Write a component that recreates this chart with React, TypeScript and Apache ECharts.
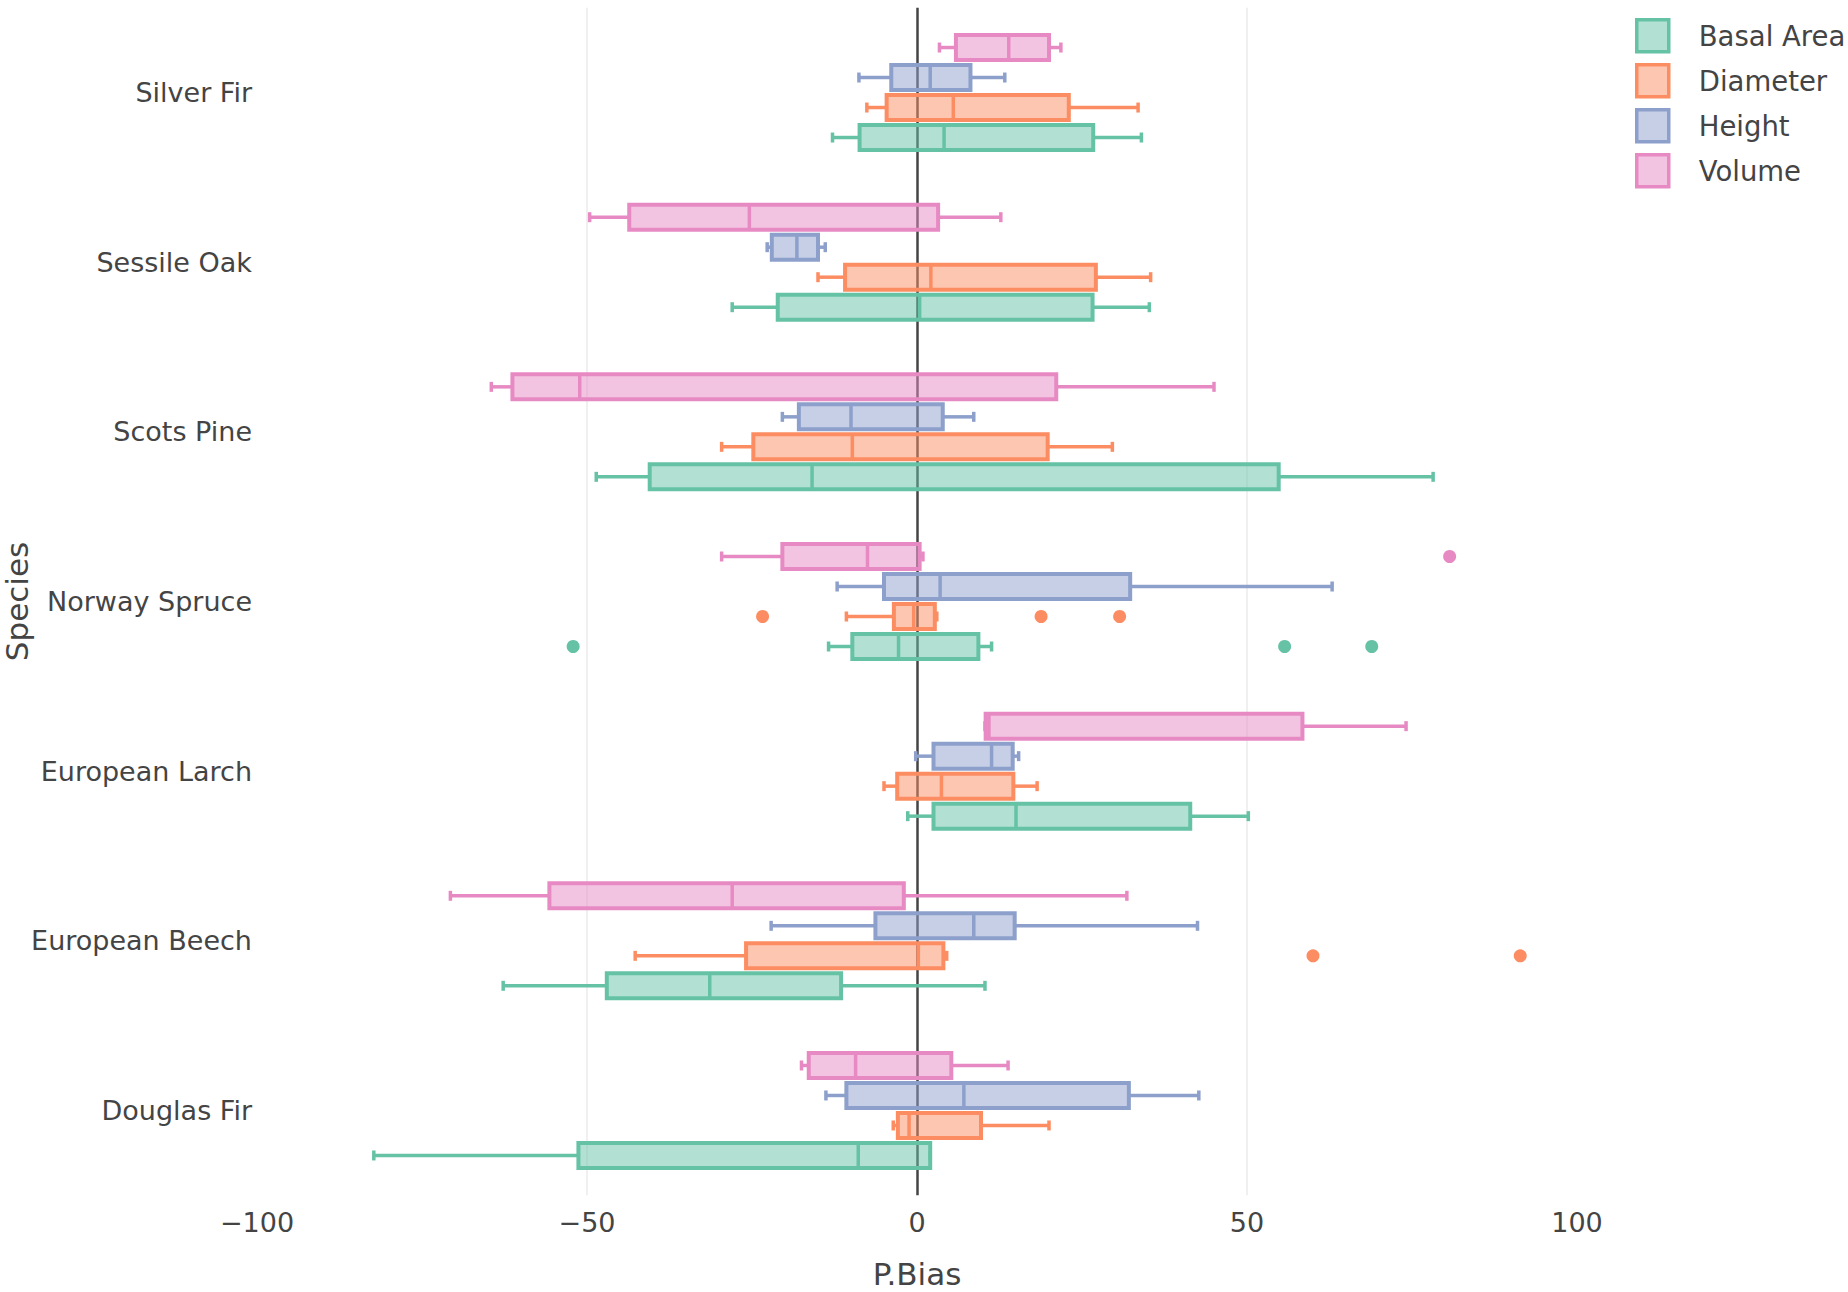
import React, { useEffect, useRef } from 'react';
import * as echarts from 'echarts';

// Categories, bottom to top
const species = [
  'Douglas Fir',
  'European Beech',
  'European Larch',
  'Norway Spruce',
  'Scots Pine',
  'Sessile Oak',
  'Silver Fir',
];

const measures = ['Basal Area', 'Diameter', 'Height', 'Volume'];

// [lower whisker, Q1, median, Q3, upper whisker] per species (same order as `species`)
const basalArea = [
  [-82.3, -51.3, -8.9, 2.0, 2.0],
  [-62.7, -47.0, -31.4, -11.5, 10.3],
  [-1.4, 2.5, 15.0, 41.4, 50.2],
  [-13.4, -9.8, -2.8, 9.3, 11.3],
  [-48.6, -40.5, -15.9, 54.8, 78.2],
  [-28.0, -21.1, 0.4, 26.6, 35.2],
  [-12.8, -8.7, 4.1, 26.7, 34.0],
];

const diameter = [
  [-3.6, -2.9, -1.2, 9.7, 20.0],
  [-42.7, -25.9, 0.2, 4.0, 4.5],
  [-5.0, -3.0, 3.7, 14.6, 18.2],
  [-10.7, -3.5, -0.5, 2.7, 3.0],
  [-29.6, -24.8, -9.8, 19.8, 29.6],
  [-15.0, -10.9, 2.1, 27.1, 35.4],
  [-7.6, -4.6, 5.5, 23.0, 33.5],
];

const height = [
  [-13.8, -10.7, 7.1, 32.1, 42.7],
  [-22.1, -6.3, 8.6, 14.8, 42.5],
  [-0.2, 2.5, 11.3, 14.5, 15.4],
  [-12.1, -5.0, 3.5, 32.3, 62.9],
  [-20.4, -17.9, -10.0, 3.9, 8.6],
  [-22.7, -22.0, -18.2, -15.0, -13.9],
  [-8.8, -3.9, 2.0, 8.1, 13.3],
];

const volume = [
  [-17.5, -16.4, -9.3, 5.2, 13.8],
  [-70.7, -55.7, -28.0, -2.0, 31.8],
  [10.3, 10.4, 10.9, 58.4, 74.1],
  [-29.6, -20.4, -7.5, 0.4, 0.9],
  [-64.5, -61.3, -51.1, 21.1, 45.0],
  [-49.6, -43.6, -25.4, 3.2, 12.7],
  [3.4, 5.9, 13.9, 20.0, 21.8],
];

// Outliers: [species, value]
const basalOutliers: [string, number][] = [
  ['Norway Spruce', -52.1],
  ['Norway Spruce', 55.7],
  ['Norway Spruce', 68.9],
];
const diameterOutliers: [string, number][] = [
  ['Norway Spruce', -23.4],
  ['Norway Spruce', 18.8],
  ['Norway Spruce', 30.7],
  ['European Beech', 60.0],
  ['European Beech', 91.4],
];
const heightOutliers: [string, number][] = [];
const volumeOutliers: [string, number][] = [['Norway Spruce', 80.7]];

const xTicks = [-100, -50, 0, 50, 100];

const lineColors = ['#66c2a5', '#fc8d62', '#8da0cb', '#e78ac3'];
const fillColors = [
  'rgba(102,194,165,0.5)',
  'rgba(252,141,98,0.5)',
  'rgba(141,160,203,0.5)',
  'rgba(231,138,195,0.5)',
];
const pixelOffsets = [45, 15, -15, -45];

const FONT = 'DejaVu Sans';
const TEXT = '#444';

function makeRenderer(color: string, fill: string, offset: number) {
  return (params: any, api: any) => {
    const cat = api.value(0);
    const xs = [1, 2, 3, 4, 5].map((i) => api.coord([api.value(i), cat])[0]);
    const y = api.coord([0, cat])[1] + offset;
    const [xl, x1, xm, x3, xh] = xs;
    const h = 25;
    const cap = 10;
    const lw = 3.5;
    const ls = { stroke: color, lineWidth: lw, fill: null };
    return {
      type: 'group',
      children: [
        { type: 'line', shape: { x1: xl, y1: y, x2: x1, y2: y }, style: ls },
        { type: 'line', shape: { x1: x3, y1: y, x2: xh, y2: y }, style: ls },
        { type: 'line', shape: { x1: xl, y1: y - cap / 2, x2: xl, y2: y + cap / 2 }, style: ls },
        { type: 'line', shape: { x1: xh, y1: y - cap / 2, x2: xh, y2: y + cap / 2 }, style: ls },
        {
          type: 'rect',
          shape: { x: x1, y: y - h / 2, width: x3 - x1, height: h },
          style: { fill, stroke: color, lineWidth: 4 },
        },
        { type: 'line', shape: { x1: xm, y1: y - h / 2, x2: xm, y2: y + h / 2 }, style: ls },
      ],
    };
  };
}

export default function App() {
  const ref = useRef<HTMLDivElement>(null);

  useEffect(() => {
    if (!ref.current) return;
    const chart = echarts.init(ref.current, undefined, { renderer: 'svg' });

    const stats = [basalArea, diameter, height, volume];
    const outliers = [basalOutliers, diameterOutliers, heightOutliers, volumeOutliers];

    const series: any[] = [];
    measures.forEach((m, k) => {
      series.push({
        name: m,
        type: 'custom',
        xAxisIndex: 0,
        yAxisIndex: 0,
        color: lineColors[k],
        renderItem: makeRenderer(lineColors[k], fillColors[k], pixelOffsets[k]),
        encode: { x: [1, 2, 3, 4, 5], y: 0 },
        data: stats[k].map((row, i) => [i, ...row]),
        z: 3,
      });
    });
    measures.forEach((m, k) => {
      if (!outliers[k].length) return;
      series.push({
        name: m,
        type: 'scatter',
        xAxisIndex: 0,
        yAxisIndex: 0,
        symbol: 'circle',
        symbolSize: 13,
        symbolOffset: [0, pixelOffsets[k]],
        itemStyle: { color: lineColors[k], opacity: 1 },
        data: outliers[k].map(([s, v]) => [v, species.indexOf(s)]),
        z: 4,
      });
    });

    const option: any = {
      animation: false,
      backgroundColor: '#ffffff',
      textStyle: { fontFamily: FONT, color: TEXT },
      grid: {
        left: 257,
        right: 271,
        top: 7.7,
        bottom: 96.7,
        containLabel: false,
        outerBoundsMode: 'none',
      },
      legend: {
        orient: 'vertical',
        left: 1635,
        top: 18,
        padding: 0,
        itemWidth: 32,
        itemHeight: 32,
        itemGap: 9.5,
        icon: 'rect',
        textStyle: {
          fontSize: 27.5,
          lineHeight: 30,
          color: TEXT,
          fontFamily: FONT,
          padding: [0, 0, 0, 25],
        },
        data: measures.map((m, k) => ({
          name: m,
          itemStyle: { color: fillColors[k], borderColor: lineColors[k], borderWidth: 3.5 },
        })),
      },
      xAxis: [
        {
          type: 'value',
          min: xTicks[0],
          max: xTicks[xTicks.length - 1],
          interval: 50,
          name: 'P.Bias',
          nameLocation: 'middle',
          nameGap: 64,
          nameMoveOverlap: false,
          nameTextStyle: { fontSize: 31, lineHeight: 30, color: TEXT, fontFamily: FONT },
          axisLine: { show: false },
          axisTick: { show: false },
          axisLabel: {
            fontSize: 27,
            color: TEXT,
            fontFamily: FONT,
            margin: 14,
            formatter: (v: number) => (v < 0 ? '\u2212' + Math.abs(v) : String(v)),
          },
          splitLine: {
            show: true,
            lineStyle: {
              color: ['rgba(0,0,0,0)', '#ebebeb', 'rgba(0,0,0,0)', '#ebebeb', 'rgba(0,0,0,0)'],
              width: 1.5,
            },
          },
        },
        {
          type: 'value',
          min: -100,
          max: 100,
          interval: 100,
          position: 'top',
          axisLine: { show: false },
          axisTick: { show: false },
          axisLabel: { show: false },
          splitLine: {
            show: true,
            lineStyle: { color: ['rgba(0,0,0,0)', '#444444', 'rgba(0,0,0,0)'], width: 2.5 },
          },
        },
      ],
      yAxis: {
        type: 'category',
        data: species,
        name: 'Species',
        nameLocation: 'middle',
        nameGap: 224,
        nameRotate: 90,
        nameMoveOverlap: false,
        nameTextStyle: { fontSize: 31, lineHeight: 32, color: TEXT, fontFamily: FONT },
        axisLine: { show: false },
        axisTick: { show: false },
        splitLine: { show: false },
        axisLabel: { fontSize: 27, color: TEXT, fontFamily: FONT, margin: 5 },
      },
      series,
    };

    chart.setOption(option);
    return () => {
      chart.dispose();
    };
  }, []);

  return (
    <div
      ref={ref}
      style={{ position: 'fixed', left: 0, top: 0, width: 1848, height: 1292, background: '#fff' }}
    />
  );
}
